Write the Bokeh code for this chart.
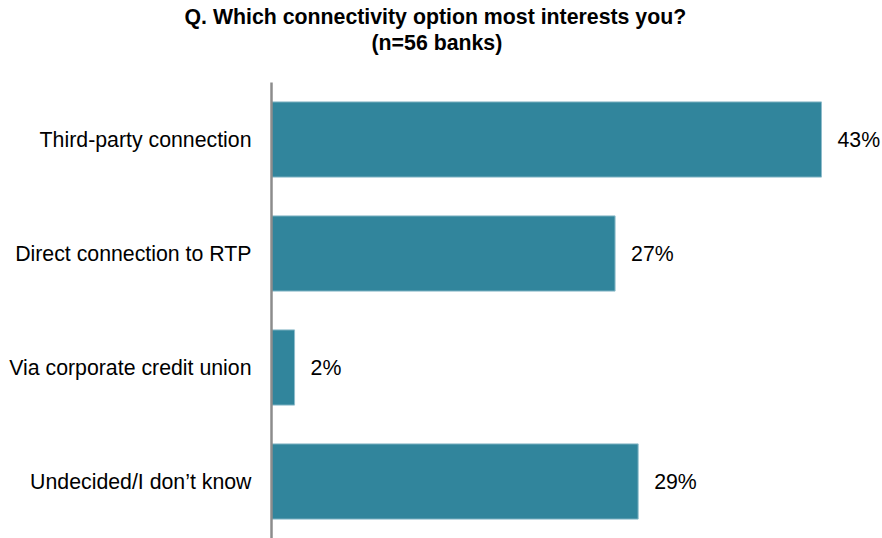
from bokeh.plotting import figure
from bokeh.models import Title, ColumnDataSource, Range1d, FactorRange
from bokeh.core.properties import value
from bokeh.embed import file_html
from bokeh.resources import INLINE

categories = ["Third-party connection", "Direct connection to RTP",
              "Via corporate credit union", "Undecided/I don\u2019t know"]
shares = [42.9, 26.8, 1.8, 28.6]
labels = ["43%", "27%", "2%", "29%"]

title_line1 = "Q. Which connectivity option most interests you?"
title_line2 = "(n=56 banks)"

FONT = "Liberation Sans"
BAR = "#31859C"
FS = "21.3px"

src = ColumnDataSource(dict(cat=categories, val=shares, lab=labels))

p = figure(width=882, height=538, output_backend="svg", toolbar_location=None,
           y_range=FactorRange(factors=list(reversed(categories)), range_padding=0),
           x_range=Range1d(0, 47.66), x_axis_location=None,
           min_border_left=271, min_border_right=0, min_border_bottom=0,
           min_border_top=82)

p.hbar(y="cat", left=0, right="val", height=0.66, source=src,
       fill_color=BAR, line_color="#8fbccb", line_width=1)
p.text(x="val", y="cat", text="lab", source=src, x_offset=16,
       text_baseline="middle", text_align="left", text_font=value(FONT),
       text_font_size=FS, text_color="black")

p.xgrid.visible = False
p.ygrid.visible = False
p.outline_line_color = None
p.background_fill_color = "white"
p.border_fill_color = "white"

ax = p.yaxis[0]
ax.major_tick_line_color = None
ax.minor_tick_line_color = None
ax.major_tick_out = 0
ax.major_tick_in = 0
ax.axis_line_color = "#8c8c8c"
ax.axis_line_width = 2.5
ax.major_label_text_font = FONT
ax.major_label_text_font_size = FS
ax.major_label_text_color = "black"
ax.major_label_standoff = 20

# blank spacer between subtitle and plot frame
p.add_layout(Title(text="\u00a0", align="left", text_font=FONT, text_font_size=FS,
                   text_font_style="bold", text_color="white", standoff=1.5), "above")
p.add_layout(Title(text=title_line2, align="left", offset=100,
                   text_font=FONT, text_font_size=FS,
                   text_font_style="bold", text_color="black", standoff=0), "above")
p.add_layout(Title(text=title_line1, align="left", offset=-87,
                   text_font=FONT, text_font_size=FS,
                   text_font_style="bold", text_color="black", standoff=0), "above")

open("out.html", "w").write(file_html(p, INLINE))
